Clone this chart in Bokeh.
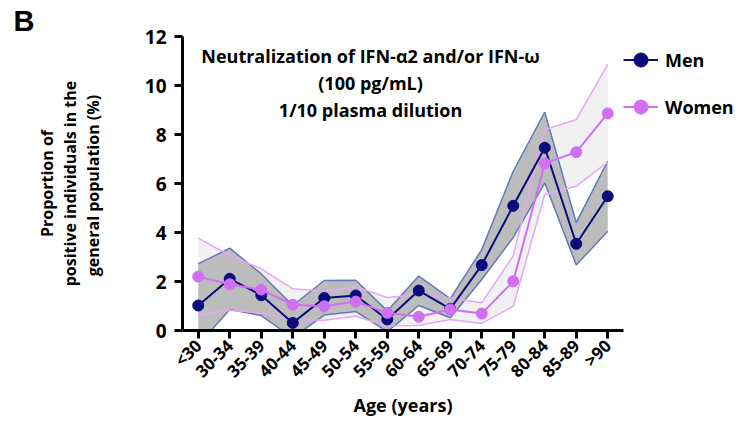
import math
from bokeh.plotting import figure
from bokeh.models import (FactorRange, Range1d, FixedTicker, Label, Legend, LegendItem)
from bokeh.embed import file_html
from bokeh.resources import INLINE

categories = ["<30", "30-34", "35-39", "40-44", "45-49", "50-54", "55-59",
              "60-64", "65-69", "70-74", "75-79", "80-84", "85-89", ">90"]
men = [1.02, 2.11, 1.44, 0.31, 1.33, 1.43, 0.45, 1.63, 0.88, 2.67, 5.09, 7.46, 3.54, 5.48]
men_upper = [2.72, 3.36, 2.31, 1.02, 2.04, 2.05, 0.80, 2.22, 1.30, 3.30, 6.50, 8.91, 4.40, 6.91]
men_lower = [-0.60, 0.86, 0.61, -0.30, 0.63, 0.78, -0.05, 1.02, 0.52, 2.08, 3.80, 6.03, 2.67, 4.05]
women = [2.20, 1.89, 1.67, 1.05, 0.99, 1.18, 0.72, 0.56, 0.86, 0.69, 2.01, 6.82, 7.28, 8.86]
women_upper = [3.77, 3.06, 2.52, 1.70, 1.60, 1.78, 1.35, 1.47, 1.33, 1.13, 3.05, 8.20, 8.61, 10.86]
women_lower = [0.63, 0.83, 0.72, 0.45, 0.42, 0.58, 0.18, 0.20, 0.45, 0.29, 0.99, 5.55, 5.89, 6.87]
y_ticks = [0, 2, 4, 6, 8, 10, 12]

FONT = "Open Sans"
MEN_C = "#0b0b7c"
WOMEN_C = "#d06ff2"

p = figure(x_range=FactorRange(*categories, range_padding=0),
           y_range=Range1d(0, 12), output_backend="svg", toolbar_location=None,
           min_border_left=182, min_border_top=36, min_border_right=0, min_border_bottom=10)
p.frame_width = 441
p.frame_height = 294
p.outline_line_color = None
p.xgrid.visible = False
p.ygrid.visible = False
p.background_fill_color = "white"
p.border_fill_color = "white"

# panel letter as title
p.title.text = "B"
p.title.align = "left"
p.title.offset = -169
p.title.text_font = "Liberation Sans"
p.title.text_font_style = "bold"
p.title.text_font_size = "29px"
p.title.standoff = 0
p.title.text_color = "black"

# bands
p.varea(x=categories, y1=women_lower, y2=women_upper, fill_color="#f1f1f1")
p.varea(x=categories, y1=men_lower, y2=men_upper, fill_color="#bcbcbc")
p.line(x=categories, y=men_upper, line_color="#6478bb", line_width=1.5)
p.line(x=categories, y=men_lower, line_color="#6478bb", line_width=1.5)
p.line(x=categories, y=women_upper, line_color="#e6a6f8", line_width=1.5)
p.line(x=categories, y=women_lower, line_color="#e6a6f8", line_width=1.5)

ml = p.line(x=categories, y=men, line_color=MEN_C, line_width=2)
ms = p.scatter(x=categories, y=men, size=11, fill_color=MEN_C, line_color=MEN_C)
wl = p.line(x=categories, y=women, line_color=WOMEN_C, line_width=2)
ws = p.scatter(x=categories, y=women, size=11, fill_color=WOMEN_C, line_color=WOMEN_C)

# axes
for ax in (p.xaxis[0], p.yaxis[0]):
    ax.axis_line_width = 3
    ax.axis_line_color = "black"
    ax.major_tick_line_width = 3
    ax.major_tick_line_color = "black"
    ax.major_tick_in = 0
    ax.major_tick_out = 8
    ax.minor_tick_line_color = None
    ax.major_label_text_font = FONT
    ax.major_label_text_font_style = "bold"
    ax.major_label_text_color = "black"

p.yaxis.ticker = FixedTicker(ticks=y_ticks)
p.yaxis.major_label_text_font_size = "19px"
p.yaxis.major_label_standoff = 8
p.yaxis.axis_label = "Proportion of\npositive individuals in the\ngeneral population  (%)"
p.yaxis.axis_label_text_font = FONT
p.yaxis.axis_label_text_font_style = "bold"
p.yaxis.axis_label_text_font_size = "16px"
p.yaxis.axis_label_text_line_height = 1.05
p.yaxis.axis_label_text_color = "black"
p.yaxis.axis_label_standoff = 38

p.xaxis.major_label_orientation = math.pi / 4
p.xaxis.major_label_text_font_size = "17px"
p.xaxis.major_label_standoff = 4
p.xaxis.axis_label = "Age (years)"
p.xaxis.axis_label_text_font = FONT
p.xaxis.axis_label_text_font_style = "bold"
p.xaxis.axis_label_text_font_size = "18px"
p.xaxis.axis_label_text_color = "black"
p.xaxis.axis_label_standoff = 0

# inset title
title_lines = ["Neutralization of IFN-\u03b12 and/or IFN-\u03c9", "(100 pg/mL)", "1/10 plasma dilution"]
for yy, t in zip([11.2, 10.1, 9.02], title_lines):
    p.add_layout(Label(x=5.97, y=yy, text=t, text_align="center", text_baseline="middle",
                       text_font=FONT, text_font_style="bold", text_font_size="18px",
                       text_color="black"))

legend = Legend(items=[LegendItem(label="Men", renderers=[ml, ms]),
                       LegendItem(label="Women", renderers=[wl, ws])],
                location="top_left", orientation="vertical",
                glyph_width=35, glyph_height=47, label_height=47, spacing=0,
                label_standoff=7, padding=0, margin=0,
                border_line_color=None, background_fill_alpha=0,
                label_text_font=FONT, label_text_font_style="bold",
                label_text_font_size="18px", label_text_color="black")
p.add_layout(legend, "right")

open("out.html", "w").write(file_html(p, INLINE))
